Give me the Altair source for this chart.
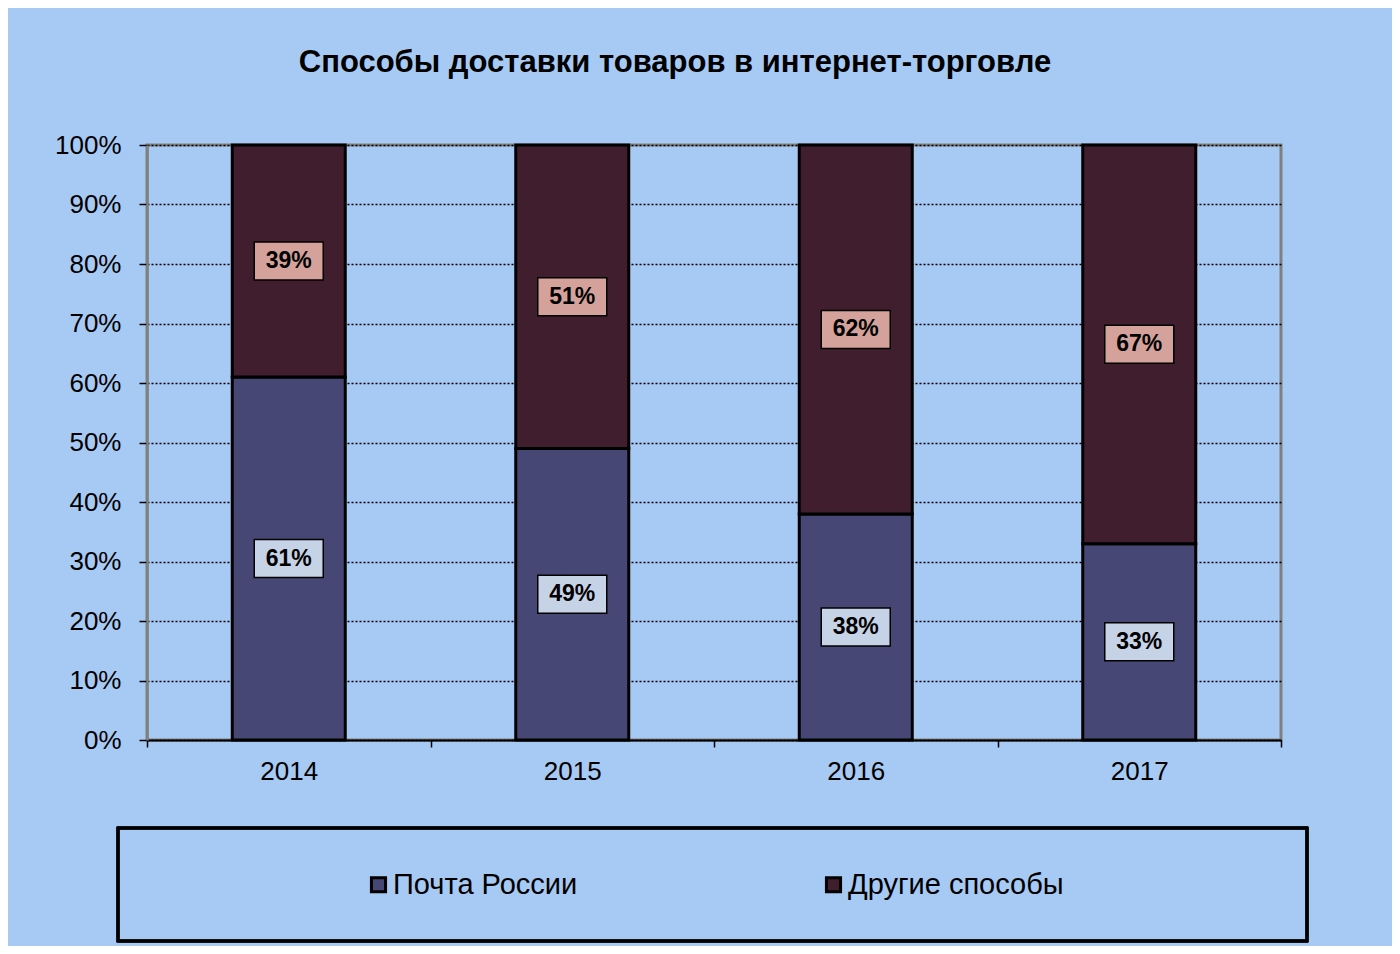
import altair as alt
import pandas as pd

years = ["2014", "2015", "2016", "2017"]
series = ["Почта России", "Другие способы"]
pochta = [61, 49, 38, 33]
other = [39, 51, 62, 67]

bar_colors = ["#464775", "#401e2e"]
box_colors = ["#c6d2e6", "#d5a19b"]

rows = []
for i, y in enumerate(years):
    p = pochta[i] / 100
    o = other[i] / 100
    rows.append({"year": y, "series": series[0], "ord": 0, "value": p,
                 "mid": p / 2, "label": f"{pochta[i]}%", "box": box_colors[0]})
    rows.append({"year": y, "series": series[1], "ord": 1, "value": o,
                 "mid": p + o / 2, "label": f"{other[i]}%", "box": box_colors[1]})
df = pd.DataFrame(rows)

FONT = "Liberation Sans"

x_enc = alt.X("year:N", title=None,
              scale=alt.Scale(paddingInner=0, paddingOuter=0),
              axis=alt.Axis(labelAngle=0, labelFontSize=26, labelFont=FONT,
                            labelColor="black", labelPadding=11,
                            domainColor="black", domainWidth=2,
                            tickColor="black", tickWidth=1.5, tickSize=7,
                            tickBand="extent", grid=False))

bars = alt.Chart(df).mark_bar(stroke="black", strokeWidth=3, width=113).encode(
    x=x_enc,
    y=alt.Y("value:Q", stack="zero", title=None,
            scale=alt.Scale(domain=[0, 1], nice=False),
            axis=alt.Axis(format=".0%", values=[i / 10 for i in range(11)],
                          labelFontSize=26, labelFont=FONT, labelColor="black",
                          labelPadding=18, domainColor="#808080", domainWidth=2.5,
                          tickColor="black", tickWidth=1.5, tickSize=8,
                          grid=True, gridColor="black", gridDash=[2, 2],
                          gridWidth=1.5)),
    color=alt.Color("series:N", scale=alt.Scale(domain=series, range=bar_colors),
                    legend=alt.Legend(title=None, orient="none", direction="horizontal",
                                      legendX=217, legendY=725, padding=0,
                                      labelFontSize=29, labelFont=FONT,
                                      labelColor="black", labelOffset=0,
                                      labelLimit=500,
                                      symbolType="square", symbolSize=200,
                                      symbolStrokeColor="black", symbolStrokeWidth=3,
                                      columnPadding=241)),
    order=alt.Order("ord:Q"),
)

box_path = "M-1,-0.55L1,-0.55L1,0.55L-1,0.55Z"
boxes = alt.Chart(df).mark_point(shape=box_path, size=4761, filled=True,
                                 stroke="black", strokeWidth=1.5, opacity=1).encode(
    x=alt.X("year:N"),
    y=alt.Y("mid:Q"),
    fill=alt.Fill("box:N", scale=None),
)

texts = alt.Chart(df).mark_text(font=FONT, fontSize=23, fontWeight="bold",
                                color="black").encode(
    x=alt.X("year:N"),
    y=alt.Y("mid:Q"),
    text="label:N",
)

legend_box = alt.Chart(df).mark_rect(fill=None, stroke="black", strokeWidth=2.5).encode(
    x=alt.value(-29), x2=alt.value(1160), y=alt.value(683), y2=alt.value(796)
)

chart = alt.layer(legend_box, bars, boxes, texts).properties(
    width=1134, height=595,
    padding={"left": 139, "top": 137, "right": 111, "bottom": 206},
    autosize=alt.AutoSizeParams(type="none"),
    background="#a6caf4",
    title=alt.TitleParams("Способы доставки товаров в интернет-торговле",
                          fontSize=31, fontWeight="bold", font=FONT, color="black",
                          anchor="middle", dx=-39, offset=29, baseline="alphabetic"),
).configure_view(stroke="#808080", strokeWidth=3)

chart.save("out.html", embed_options={"renderer": "svg", "actions": False})
